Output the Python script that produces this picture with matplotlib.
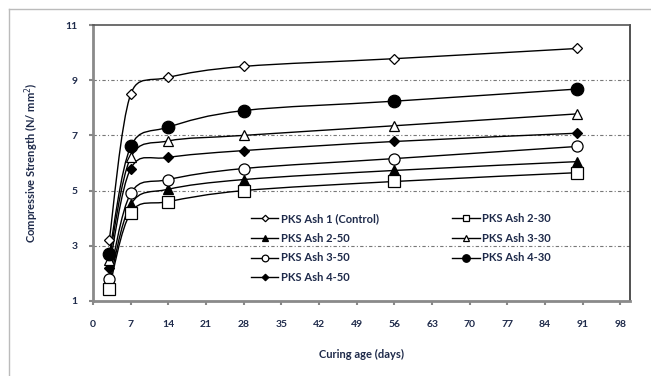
import numpy as np
import matplotlib.pyplot as plt
from matplotlib.path import Path
from matplotlib.patches import PathPatch
from matplotlib.lines import Line2D

days = [3, 7, 14, 28, 56, 90]
control = [3.2, 8.5, 9.1, 9.5, 9.78, 10.15]
ash2_30 = [1.45, 4.2, 4.6, 5.0, 5.33, 5.65]
ash2_50 = [1.6, 4.5, 5.05, 5.4, 5.73, 6.05]
ash3_30 = [2.5, 6.2, 6.8, 7.0, 7.35, 7.78]
ash3_50 = [1.8, 4.9, 5.4, 5.8, 6.16, 6.6]
ash4_30 = [2.7, 6.6, 7.3, 7.9, 8.24, 8.68]
ash4_50 = [2.2, 5.8, 6.2, 6.45, 6.78, 7.08]

xticks = list(range(0, 99, 7))
yticks = [1, 3, 5, 7, 9, 11]

# (label, values, marker, filled, size)
series = [
    ("PKS Ash 1 (Control)", control, "D", False, 5.5),
    ("PKS Ash 2-50", ash2_50, "^", True, 7),
    ("PKS Ash 3-50", ash3_50, "o", False, 8),
    ("PKS Ash 4-50", ash4_50, "D", True, 5.5),
    ("PKS Ash 2-30", ash2_30, "s", False, 8),
    ("PKS Ash 3-30", ash3_30, "^", False, 7.5),
    ("PKS Ash 4-30", ash4_30, "o", True, 9),
]

plt.rcParams['font.family'] = ['Lato', 'DejaVu Sans']
txt_col = "#1e2a4a"


def smooth_path(xs, ys, sx, sy):
    """Excel-like smoothed line as a cubic Bezier path."""
    pts = np.column_stack([np.array(xs) * sx, np.array(ys) * sy])
    n = len(pts)
    verts = [pts[0]]
    codes = [Path.MOVETO]
    for i in range(n - 1):
        p0 = pts[max(i - 1, 0)]
        p1 = pts[i]
        p2 = pts[i + 1]
        p3 = pts[min(i + 2, n - 1)]
        half = np.linalg.norm(p2 - p1) / 2
        t1 = (p2 - p0) / 6
        t2 = (p3 - p1) / 6
        if np.linalg.norm(t1) > half:
            t1 = t1 * half / np.linalg.norm(t1)
        if np.linalg.norm(t2) > half:
            t2 = t2 * half / np.linalg.norm(t2)
        verts += [p1 + t1, p2 - t2, p2]
        codes += [Path.CURVE4] * 3
    verts = np.array(verts) / [sx, sy]
    return Path(verts, codes)


fig = plt.figure(figsize=(6.51, 3.76), dpi=100)
ax = fig.add_axes([0.143, 0.1995, 0.825, 0.734])
ax.set_xlim(0, 99.8)
ax.set_ylim(1, 11)

# px per unit, for the smoothing
sx = 537 / 99.8
sy = 276 / 10.0

handles = []
for label, vals, mk, filled, ms in series:
    ax.add_patch(PathPatch(smooth_path(days, vals, sx, sy), fill=False,
                           edgecolor="black", lw=1.0, zorder=3))
    fc = "black" if filled else "white"
    ax.plot(days, vals, linestyle="none", marker=mk, ms=ms, mfc=fc,
            mec="black", mew=0.9, zorder=4)
    handles.append(Line2D([], [], color="black", lw=1.0, marker=mk, ms=ms * 0.6,
                          mfc=fc, mec="black", mew=0.9, label=label))

ax.set_xticks(xticks)
ax.set_yticks(yticks)
ax.tick_params(axis="both", labelsize=7.5, colors="#888888", labelcolor=txt_col,
               direction="out", length=3, width=1.5)
ax.tick_params(axis="x", pad=11)
ax.tick_params(axis="y", pad=8)
for lab in ax.get_xticklabels() + ax.get_yticklabels():
    lab.set_fontweight("bold")

for y in [3, 5, 7, 9]:
    ax.axhline(y, color="#777777", lw=0.8, ls=(0, (3, 2, 1, 2)), zorder=1)

ax.spines["left"].set_color("#8a8a8a")
ax.spines["left"].set_linewidth(2)
ax.spines["bottom"].set_color("#8a8a8a")
ax.spines["bottom"].set_linewidth(2)
ax.spines["right"].set_color("#333333")
ax.spines["right"].set_linewidth(1.2)
ax.spines["top"].set_color("#555555")
ax.spines["top"].set_linewidth(1.2)
ax.spines["top"].set_linestyle((0, (3, 1, 1, 1)))

ax.set_xlabel("Curing age (days)", fontsize=8, fontweight="bold", color=txt_col,
              labelpad=14)
ax.set_ylabel("Compressive Strength (N/ mm$^2$)", fontsize=8, fontweight="bold",
              color=txt_col, labelpad=18)

leg = ax.legend(handles=handles, ncol=2, loc="upper left",
                bbox_to_anchor=(0.283, 0.34), frameon=False, fontsize=8,
                borderpad=0, labelspacing=0.8, handlelength=2.5,
                handletextpad=0.2, columnspacing=6.6)
for t in leg.get_texts():
    t.set_color(txt_col)
    t.set_fontweight("bold")

# outer chart-area border
fig.add_artist(Line2D([9 / 651, 9 / 651], [0, 1 - 9 / 376], color="#bbbbbb", lw=1))
fig.add_artist(Line2D([9 / 651, 1], [1 - 9 / 376, 1 - 9 / 376], color="#bbbbbb", lw=1))

fig.savefig("out.png", dpi=100)
